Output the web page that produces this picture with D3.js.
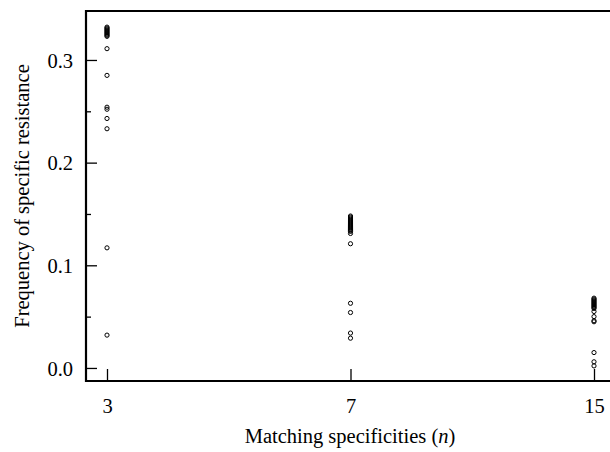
<!DOCTYPE html>
<html>
<head>
<meta charset="utf-8">
<script src="https://cdn.jsdelivr.net/npm/d3@7"></script>
<style>
  body { margin: 0; background: #fff; }
  svg text { font-family: "Liberation Serif", "DejaVu Serif", serif; fill: #000; }
</style>
</head>
<body>
<svg id="chart" width="610" height="452"></svg>
<script>
// categories on the x axis (matching specificities n)
var categories = ["3", "7", "15"];

// frequency of specific resistance, one array per category
var freq3 = [0.332, 0.331, 0.330, 0.329, 0.328, 0.327, 0.326, 0.325, 0.324, 0.323,
             0.311, 0.285, 0.254, 0.252, 0.243, 0.233, 0.117, 0.032];
var freq7 = [0.148, 0.147, 0.146, 0.145, 0.144, 0.143, 0.142, 0.141, 0.140, 0.139,
             0.138, 0.137, 0.136, 0.135, 0.134, 0.133, 0.131, 0.121,
             0.063, 0.054, 0.034, 0.029];
var freq15 = [0.068, 0.067, 0.066, 0.065, 0.064, 0.063, 0.062, 0.061, 0.060, 0.059,
              0.058, 0.055, 0.050, 0.046, 0.045, 0.015, 0.006, 0.002];

var yMajor = [0.0, 0.1, 0.2, 0.3];
var yMinor = [0.05, 0.15, 0.25];

var series = [freq3, freq7, freq15];

var margin = {top: 11, right: -6, bottom: 71, left: 86},
    width = 610 - margin.left - margin.right,
    height = 452 - margin.top - margin.bottom;

var svg = d3.select("#chart");
var g = svg.append("g")
    .attr("transform", "translate(" + margin.left + "," + margin.top + ")");

// point scale, the first category sits a bit right of the left frame
var x = d3.scalePoint()
    .domain(categories)
    .range([21, 508]);

var y = d3.scaleLinear()
    .domain([-0.0127, 0.3477])
    .range([height, 0]);

// flatten to {cat, value}
var points = [];
series.forEach(function(vals, i) {
  vals.forEach(function(v) { points.push({cat: categories[i], value: v}); });
});

// y axis: major ticks inward with labels, minor ticks shorter
var yAxis = g.append("g")
    .call(d3.axisRight(y).tickValues(yMajor).tickSize(11).tickFormat(d3.format(".1f")));
yAxis.select(".domain").remove();
yAxis.selectAll(".tick line").attr("stroke", "#000").attr("stroke-width", 1.3);
yAxis.selectAll(".tick text")
    .attr("x", -13)
    .attr("text-anchor", "end")
    .attr("dy", "0.35em")
    .style("font-size", "20.5px");

var yMinorAxis = g.append("g")
    .call(d3.axisRight(y).tickValues(yMinor).tickSize(5).tickFormat(""));
yMinorAxis.select(".domain").remove();
yMinorAxis.selectAll(".tick line").attr("stroke", "#000").attr("stroke-width", 1.3);

// x axis: ticks point up into the plot
var xAxis = g.append("g")
    .attr("transform", "translate(0," + height + ")")
    .call(d3.axisTop(x).tickSize(12));
xAxis.select(".domain").remove();
xAxis.selectAll(".tick line").attr("stroke", "#000").attr("stroke-width", 1.3);
xAxis.selectAll(".tick text")
    .attr("y", 32)
    .attr("dy", 0)
    .style("font-size", "20.5px");

// frame: left, top, bottom (right edge falls outside the picture)
g.append("path")
    .attr("d", "M" + (width + 10) + ",0H0V" + height + "H" + (width + 10))
    .attr("fill", "none")
    .attr("stroke", "#000")
    .attr("stroke-width", 2.2);

// points
g.selectAll("circle.pt")
    .data(points)
  .enter().append("circle")
    .attr("class", "pt")
    .attr("cx", function(d) { return x(d.cat); })
    .attr("cy", function(d) { return y(d.value); })
    .attr("r", 2.1)
    .attr("fill", "none")
    .attr("stroke", "#000")
    .attr("stroke-width", 1);

// axis titles
var xt = svg.append("text")
    .attr("x", 350)
    .attr("y", 443)
    .attr("text-anchor", "middle")
    .style("font-size", "20.5px");
xt.append("tspan").text("Matching specificities (");
xt.append("tspan").style("font-style", "italic").text("n");
xt.append("tspan").text(")");

svg.append("text")
    .attr("transform", "translate(29," + (margin.top + height / 2) + ") rotate(-90)")
    .attr("text-anchor", "middle")
    .style("font-size", "20.5px")
    .text("Frequency of specific resistance");
</script>
</body>
</html>
